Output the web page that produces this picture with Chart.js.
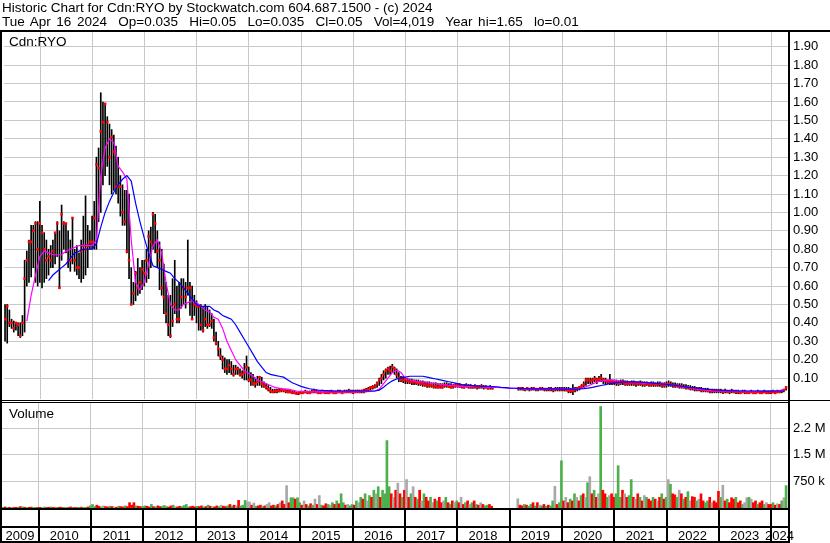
<!DOCTYPE html>
<html><head><meta charset="utf-8">
<script src="https://cdn.jsdelivr.net/npm/chart.js@4.4.1/dist/chart.umd.min.js"></script>
<style>
html,body{margin:0;padding:0;background:#fff}
#wrap{position:relative;width:830px;height:543px;overflow:hidden;font-family:"Liberation Sans",Arial,sans-serif;color:#000}
.t{position:absolute;font-size:13.5px;line-height:15px;white-space:pre;z-index:6}
.l{position:absolute;background:#000;z-index:5}
canvas{position:absolute;left:0}
</style></head><body><div id="wrap">
<div class="t" style="left:2px;top:0px">Historic Chart for Cdn:RYO by Stockwatch.com 604.687.1500 - (c) 2024</div>
<div class="t" style="left:2px;top:14px;word-spacing:1.9px">Tue Apr 16 2024  Op=0.035  Hi=0.05  Lo=0.035  Cl=0.05  Vol=4,019  Year hi=1.65  lo=0.01</div>
<canvas id="pc" width="830" height="403" style="top:0px"></canvas>
<canvas id="vc" width="830" height="143" style="top:400px"></canvas>
<div class="t" style="left:9px;top:34px">Cdn:RYO</div>
<div class="t" style="left:9px;top:406px">Volume</div>
<div class="l" style="left:0;top:30px;width:830px;height:2px"></div>
<div class="l" style="left:0;top:30px;width:2px;height:513px"></div>
<div class="l" style="left:788px;top:30px;width:2px;height:513px"></div>
<div class="l" style="left:0;top:400px;width:830px;height:1px"></div>
<div class="l" style="left:0;top:402px;width:788px;height:1px"></div>
<div class="l" style="left:0;top:508px;width:788px;height:2px"></div>
<div class="l" style="left:0;top:526px;width:788px;height:2px"></div>
<div class="l" style="left:0;top:541px;width:788px;height:2px"></div>
</div>
<script>
// ---- time base: half-month steps for price/volume, monthly for averages ----
const START = 2009.33, STEP = 1 / 24;
const MA_STEP = 1 / 12;
const XMIN = 2009.31, XMAX = 2024.325;

// ---- price: high / low / close (half-month) ----
const hi = [
 .50,.50,.47,.42,.41,.40,.40,.40,.44,.74,.79,.85,.93,.93,.95,.95,
 1.06,.93,.89,.85,.80,.82,.85,.89,.95,.90,1.04,.95,.94,.90,.85,.97,.80,.82,.78,.85,.98,1.09,.93,.90,
 .98,1.06,1.30,1.35,1.65,1.60,1.59,1.52,1.48,1.45,1.42,1.36,1.30,1.20,1.15,1.12,1.12,1.10,.70,.62,.68,.75,.70,.74,
 .74,.80,.90,.92,1.00,.99,.90,.84,.80,.72,.62,.55,.55,.64,.74,.60,.62,.64,.64,.62,.85,.62,.60,.55,
 .52,.50,.50,.49,.50,.49,.47,.45,.42,.35,.30,.26,.22,.21,.20,.20,.19,.17,.17,.16,.15,.14,.18,.22,
 .16,.13,.12,.10,.11,.11,.105,.08,.07,.06,.05,.04,.04,.04,.045,.045,.04,.04,.035,.035,.03,.03,.025,.025,
 .03,.03,.035,.03,.03,.035,.04,.035,.03,.03,.035,.03,.03,.03,.035,.03,.03,.035,.035,.03,.035,.035,.04,.035,
 .035,.035,.035,.035,.035,.04,.045,.05,.055,.06,.065,.08,.10,.12,.14,.15,.16,.165,.175,.16,.15,.13,.11,.11,
 .10,.10,.095,.095,.09,.09,.09,.085,.085,.08,.08,.08,.075,.075,.075,.07,.07,.07,.075,.075,.07,.07,.065,.07,
 .07,.07,.065,.065,.07,.065,.065,.06,.065,.06,.06,.065,.06,.06,.055,.06,.055,null,null,null,null,null,null,null,
 null,null,null,null,.05,.05,.05,.045,.05,.045,.05,.05,.045,.045,.05,.05,.045,.045,.05,.05,.045,.05,.05,.05,
 .05,.05,.05,.05,.045,.065,.05,.05,.055,.065,.08,.10,.10,.10,.10,.11,.10,.11,.12,.10,.10,.09,.12,.09,
 .09,.09,.085,.09,.09,.085,.085,.08,.085,.085,.08,.08,.085,.08,.08,.08,.075,.08,.08,.075,.08,.08,.075,.075,
 .08,.085,.08,.075,.075,.07,.07,.07,.065,.065,.06,.06,.055,.055,.05,.05,.05,.045,.045,.045,.04,.04,.04,.04,
 .04,.04,.035,.04,.035,.035,.04,.035,.035,.035,.03,.035,.035,.03,.03,.035,.03,.03,.035,.03,.03,.035,.03,.03,
 .03,.035,.03,.035,.03,.035,.04,.05
];
const lo = [
 .30,.29,.38,.37,.35,.36,.33,.32,.33,.35,.60,.62,.65,.70,.62,.60,
 .62,.59,.62,.64,.66,.70,.70,.72,.76,.59,.74,.80,.78,.70,.68,.72,.68,.66,.64,.62,.64,.66,.70,.80,
 .80,.80,.80,.95,1.00,1.15,1.20,1.25,1.15,1.10,1.12,1.10,1.05,.98,.93,.93,.78,.64,.50,.50,.52,.55,.56,.58,
 .60,.62,.64,.70,.80,.78,.70,.58,.55,.45,.40,.33,.32,.38,.45,.40,.40,.48,.50,.48,.55,.44,.42,.44,
 .40,.36,.36,.35,.38,.37,.38,.37,.30,.28,.22,.20,.15,.13,.12,.13,.12,.11,.12,.12,.11,.10,.09,.09,
 .08,.06,.06,.05,.06,.06,.05,.05,.04,.03,.02,.02,.02,.02,.025,.025,.025,.02,.02,.02,.015,.015,.01,.01,
 .015,.015,.02,.015,.015,.02,.02,.02,.015,.015,.02,.015,.015,.015,.02,.015,.015,.02,.02,.015,.02,.02,.02,.02,
 .015,.02,.02,.02,.02,.02,.025,.03,.035,.04,.045,.05,.06,.07,.09,.10,.12,.12,.13,.12,.10,.08,.08,.075,
 .07,.07,.07,.065,.065,.065,.06,.06,.055,.055,.05,.05,.05,.045,.045,.045,.045,.045,.05,.05,.05,.045,.045,.05,
 .05,.05,.045,.045,.05,.045,.045,.045,.045,.04,.045,.045,.04,.045,.04,.04,.04,null,null,null,null,null,null,null,
 null,null,null,null,.035,.035,.035,.03,.035,.03,.035,.035,.03,.03,.035,.035,.03,.03,.03,.03,.025,.03,.03,.03,
 .03,.03,.03,.02,.02,.01,.025,.03,.035,.045,.05,.06,.07,.07,.07,.08,.07,.08,.08,.07,.07,.07,.065,.065,
 .065,.06,.06,.065,.065,.06,.06,.06,.06,.06,.055,.06,.06,.055,.055,.06,.055,.055,.055,.055,.055,.055,.05,.05,
 .05,.055,.055,.05,.05,.05,.045,.045,.045,.04,.04,.035,.035,.03,.03,.03,.025,.025,.025,.025,.02,.02,.02,.02,
 .02,.02,.015,.02,.02,.015,.02,.02,.015,.015,.015,.02,.015,.015,.015,.02,.015,.015,.02,.015,.015,.02,.015,.015,
 .015,.02,.015,.02,.02,.02,.025,.035
];
const cl = [
 .42,.49,.40,.40,.37,.40,.39,.33,.40,.64,.74,.84,.84,.90,.94,.80,
 .94,.89,.80,.74,.76,.74,.79,.89,.94,.59,.99,.94,.94,.74,.74,.97,.74,.70,.70,.79,.82,.80,.82,.84,
 .84,.97,1.26,1.24,1.44,1.49,1.59,1.49,1.30,1.41,1.33,1.14,1.14,1.14,1.00,.95,.79,.74,.50,.56,.67,.59,.62,.69,
 .67,.74,.87,.84,.99,.94,.79,.74,.59,.54,.45,.39,.33,.41,.50,.42,.42,.54,.59,.54,.59,.59,.42,.50,
 .49,.49,.39,.36,.42,.39,.39,.41,.32,.29,.26,.22,.20,.15,.15,.17,.15,.12,.15,.15,.12,.12,.13,.16,
 .09,.09,.07,.07,.08,.105,.07,.06,.05,.04,.03,.025,.03,.03,.03,.035,.035,.03,.025,.025,.02,.02,.015,.02,
 .02,.02,.025,.02,.02,.025,.03,.025,.02,.02,.025,.02,.02,.02,.025,.02,.02,.025,.025,.02,.025,.025,.03,.025,
 .025,.025,.03,.025,.03,.03,.035,.04,.05,.05,.055,.07,.09,.10,.12,.14,.15,.14,.16,.15,.12,.10,.09,.09,
 .09,.085,.08,.08,.08,.075,.075,.07,.07,.065,.06,.06,.06,.055,.055,.05,.055,.05,.06,.06,.055,.05,.055,.06,
 .06,.055,.055,.05,.06,.055,.05,.05,.055,.05,.05,.055,.05,.05,.045,.05,.045,null,null,null,null,null,null,null,
 null,null,null,null,.04,.045,.04,.04,.045,.04,.04,.045,.04,.04,.045,.04,.04,.04,.04,.04,.035,.04,.04,.04,
 .04,.04,.035,.03,.03,.03,.04,.045,.05,.055,.065,.09,.09,.085,.09,.095,.09,.095,.10,.09,.085,.08,.08,.08,
 .08,.075,.07,.075,.08,.07,.07,.07,.075,.07,.07,.07,.07,.07,.065,.07,.065,.065,.07,.065,.065,.07,.06,.06,
 .065,.07,.065,.06,.06,.06,.055,.055,.05,.05,.05,.045,.045,.04,.04,.04,.035,.035,.035,.03,.03,.03,.03,.03,
 .03,.03,.025,.03,.025,.025,.03,.025,.025,.025,.02,.025,.025,.02,.02,.025,.02,.02,.025,.02,.02,.025,.02,.02,
 .025,.025,.02,.025,.025,.03,.035,.05
];

// ---- moving averages (monthly) ----
const maShort = [
 null,null,null,null,null,.41,.55,.66,.76,.79,
 .78,.77,.77,.77,.79,.80,.81,.82,.82,.82,
 .82,.85,1.20,1.35,1.40,1.38,1.25,1.22,1.18,.85,
 .62,.58,.62,.72,.82,.85,.78,.62,.50,.47,
 .47,.50,.51,.52,.51,.49,.47,.46,.43,.42,
 .37,.30,.25,.20,.17,.14,.125,.11,.09,.08,
 .07,.06,.05,.045,.04,.04,.035,.03,.028,.027,
 .026,.025,.025,.025,.025,.025,.025,.025,.025,.025,
 .025,.025,.026,.027,.028,.03,.04,.07,.10,.13,
 .143,.13,.10,.09,.085,.08,.08,.075,.07,.07,
 .065,.065,.06,.06,.055,.055,.055,.055,.055,.055,
 .052,.05,.05,.05,.048,.047,.046,.045,.044,.043,
 .042,.042,.042,.042,.042,.042,.041,.04,.04,.04,
 .04,.04,.042,.048,.058,.068,.078,.085,.088,.09,
 .088,.085,.082,.08,.078,.076,.075,.073,.072,.071,
 .07,.07,.067,.065,.06,.055,.05,.048,.045,.04,
 .038,.035,.033,.03,.03,.03,.03,.028,.028,.027,
 .027,.027,.027,.027,.028,.028,.03,.03,.032,.035
];
const maLong = [
 null,null,null,null,null,null,null,null,null,null,
 .63,.66,.68,.70,.72,.75,.78,.79,.80,.80,
 .80,.83,.92,1.00,1.06,1.11,1.15,1.18,1.20,1.17,
 1.05,.95,.86,.78,.71,.70,.69,.68,.67,.64,
 .62,.59,.56,.53,.50,.49,.49,.49,.47,.46,
 .44,.43,.42,.39,.35,.31,.27,.23,.19,.16,
 .13,.12,.115,.11,.105,.09,.075,.065,.055,.048,
 .042,.038,.035,.033,.032,.031,.03,.03,.03,.03,
 .03,.03,.03,.03,.03,.03,.035,.05,.07,.085,
 .095,.10,.105,.11,.11,.11,.11,.105,.10,.095,
 .09,.085,.08,.075,.07,.065,.062,.06,.058,.056,
 .055,.055,.054,.053,.05,.048,.046,.045,.044,.043,
 .043,.042,.042,.042,.042,.042,.041,.04,.04,.04,
 .04,.04,.041,.043,.046,.05,.055,.06,.065,.07,
 .074,.077,.079,.08,.08,.079,.078,.076,.074,.072,
 .07,.068,.066,.063,.06,.057,.054,.05,.048,.045,
 .043,.04,.038,.036,.034,.033,.032,.031,.03,.03,
 .03,.03,.03,.03,.029,.029,.029,.03,.03,.03
];

// ---- volume (thousands, half-month) and bar colour codes g=up r=down k=unchanged ----
const volK = [
 20,30,15,20,10,15,20,25,40,30,20,15,20,25,15,20,
 15,20,10,25,15,20,30,15,10,20,25,15,20,10,15,30,20,15,10,20,25,15,20,30,
 60,100,40,80,50,30,60,40,30,50,40,30,20,50,40,30,60,40,150,80,150,60,50,40,
 40,60,50,30,100,40,30,60,40,50,70,40,30,60,80,40,30,50,40,70,100,30,40,50,
 30,50,40,60,30,40,80,50,40,30,60,40,80,50,40,60,100,60,80,60,215,60,80,215,
 170,170,80,140,50,60,80,40,60,100,150,60,80,60,100,150,200,100,630,150,290,290,250,290,
 150,80,200,100,60,120,80,250,100,350,80,60,120,100,80,150,100,200,120,400,150,80,100,60,
 100,80,200,150,300,250,400,200,350,300,500,400,600,300,500,400,1900,600,400,300,500,700,400,300,
 500,800,300,400,600,300,250,500,200,400,300,200,300,150,250,200,300,150,200,300,150,100,200,150,
 200,150,300,100,150,200,100,150,200,100,80,150,100,60,80,100,50,0,0,0,0,0,0,0,
 0,0,0,0,260,80,60,100,80,50,100,150,60,150,80,60,100,50,80,60,200,610,100,150,
 1330,200,300,150,250,200,400,300,200,350,400,300,710,880,400,500,300,400,2860,500,400,300,350,400,
 300,400,1190,300,500,400,300,350,800,300,250,400,300,200,350,300,250,200,300,250,200,300,400,250,
 300,800,670,400,370,300,500,400,250,300,460,200,320,300,200,250,400,200,150,200,300,150,200,150,
 470,300,640,200,250,150,290,250,300,150,200,100,150,290,300,250,150,200,100,150,200,100,150,100,
 100,150,80,120,100,200,290,630
];
const volC =
 "grgrgrrgrgrgrrgg" +
 "rrggrrgrrgrrggrrgrrgrggr" +
 "gggrrgkrrgrkrgrrgrrrrgrr" +
 "ggrrgrgrrgggrrgkrrggggrr" +
 "rgrrgrgrkrrgkrrgrgrkrggg" +
 "kkrkgrrgrkkrrgrkrrkrggrg" +
 "grkrgrgkrkgrrgkgrgrggrkg" +
 "grgkgrgkgrgkgrggggrkrkrg" +
 "rkrgkrgrkgrrgkrgrrkgrgrk" +
 "grkrgrkgrgrkrggrrrrrrrrr" +
 "rrrrkrrgrggrgrkgrgrggkrg" +
 "grkrgrgkrgrkgkrgrkgrrgkr" +
 "rgggrkrggrkrgrkgrrgrkrgr" +
 "gkgrrgkrgrgkrrgkrrggrkrr" +
 "rgkrgrrrgrrgkkgkrrgrrgkr" +
 "rgrkrgkg";

// ---- axes ----
const yearTicks = [2010,2011,2012,2013,2014,2015,2016,2017,2018,2019,2020,2021,2022,2023,2024];
const yearLabels = ['2009','2010','2011','2012','2013','2014','2015','2016','2017','2018','2019','2020','2021','2022','2023','2024'];
const priceTicks = [0.1,0.2,0.3,0.4,0.5,0.6,0.7,0.8,0.9,1.0,1.1,1.2,1.3,1.4,1.5,1.6,1.7,1.8,1.9];
const volTicks = [750,1500,2250];
const volLabels = ['750 k','1.5 M','2.2 M'];

const COLORS = { g: '#4cb04c', r: '#ff0000', k: '#a8a8a8' };
const FONT = { family: "'Liberation Sans', Arial, sans-serif", size: 13 };
const GRID = '#c8c8c8';

const noPad = s => { s.paddingTop = 0; s.paddingBottom = 0; s.paddingLeft = 0; s.paddingRight = 0; };

const tAt = i => START + i * STEP;
const barData = [], closeData = [];
hi.forEach((h, i) => {
  if (h == null) return;
  barData.push({ x: tAt(i), y: [lo[i], h] });
  closeData.push({ x: tAt(i), y: cl[i] });
});
const maS = maShort.map((v, j) => ({ x: START + j * MA_STEP, y: v }));
const maL = maLong.map((v, j) => ({ x: START + j * MA_STEP, y: v }));
const volData = [], volCol = [];
volK.forEach((v, i) => {
  if (!v) return;
  volData.push({ x: tAt(i), y: v });
  volCol.push(COLORS[volC[i]] || COLORS.r);
});

const yearGridAxis = () => ({
  type: 'linear', min: XMIN, max: XMAX, offset: false,
  afterBuildTicks: s => { s.ticks = yearTicks.map(v => ({ value: v })); },
  ticks: { display: false },
  grid: { color: GRID, lineWidth: 1, drawTicks: false, offset: false },
  border: { display: false },
  afterFit: s => { s.height = 0; noPad(s); }
});

new Chart(document.getElementById('pc'), {
  type: 'bar',
  data: { datasets: [
    { type: 'line', data: maL, borderColor: '#0000ff', borderWidth: 1.2, pointRadius: 0, spanGaps: false, order: 1 },
    { type: 'line', data: maS, borderColor: '#ff00ff', borderWidth: 1.2, pointRadius: 0, spanGaps: false, order: 2 },
    { type: 'scatter', data: closeData, pointStyle: 'rect', pointRadius: 1.8, backgroundColor: '#ff0000', borderWidth: 0, order: 3 },
    { type: 'bar', data: barData, backgroundColor: '#000000', barThickness: 1, grouped: false, order: 4 }
  ]},
  options: {
    responsive: false, animation: false,
    layout: { padding: { left: 2, top: 32, right: 0, bottom: 1 } },
    plugins: { legend: { display: false }, tooltip: { enabled: false } },
    scales: {
      x: yearGridAxis(),
      y: {
        position: 'right', min: -0.0135, max: 1.98,
        afterBuildTicks: s => { s.ticks = priceTicks.map(v => ({ value: v })); },
        ticks: { callback: v => v.toFixed(2), font: FONT, color: '#000', padding: 5 },
        grid: { color: GRID, drawTicks: false },
        border: { display: false },
        afterFit: s => { s.width = 42; noPad(s); }
      }
    }
  }
});

const stripPlugin = {
  id: 'strip',
  afterDraw(c) {
    const ctx = c.ctx, xs = c.scales.x, top = c.chartArea.bottom;
    ctx.save();
    ctx.fillStyle = '#000';
    yearTicks.forEach(y => {
      const px = Math.floor(xs.getPixelForValue(y));
      ctx.fillRect(px, top, 2, c.height - top);
    });
    ctx.restore();
  }
};

const labelPos = yearLabels.map((s, k) => {
  const y = 2009 + k;
  const a = Math.max(y, XMIN), b = Math.min(y + 1, XMAX);
  return (a + b) / 2;
});

new Chart(document.getElementById('vc'), {
  type: 'bar',
  data: { datasets: [
    { type: 'bar', data: volData, backgroundColor: volCol, barThickness: 2, grouped: false }
  ]},
  options: {
    responsive: false, animation: false,
    layout: { padding: { left: 2, top: 3, right: 0, bottom: 0 } },
    plugins: { legend: { display: false }, tooltip: { enabled: false } },
    scales: {
      x: yearGridAxis(),
      xl: {
        type: 'linear', position: 'bottom', min: XMIN, max: XMAX, offset: false,
        afterBuildTicks: s => { s.ticks = labelPos.map(v => ({ value: v })); },
        ticks: { callback: (v, i) => yearLabels[i], font: FONT, color: '#000', padding: 21, maxRotation: 0, autoSkip: false },
        grid: { display: false, drawTicks: false },
        border: { display: false },
        afterFit: s => { s.height = 35; noPad(s); }
      },
      y: {
        position: 'right', min: 0, max: 2958,
        afterBuildTicks: s => { s.ticks = volTicks.map(v => ({ value: v })); },
        ticks: { callback: (v, i) => volLabels[i], font: FONT, color: '#000', padding: 5 },
        grid: { color: GRID, drawTicks: false },
        border: { display: false },
        afterFit: s => { s.width = 42; noPad(s); }
      }
    }
  },
  plugins: [stripPlugin]
});
</script>
</body></html>
